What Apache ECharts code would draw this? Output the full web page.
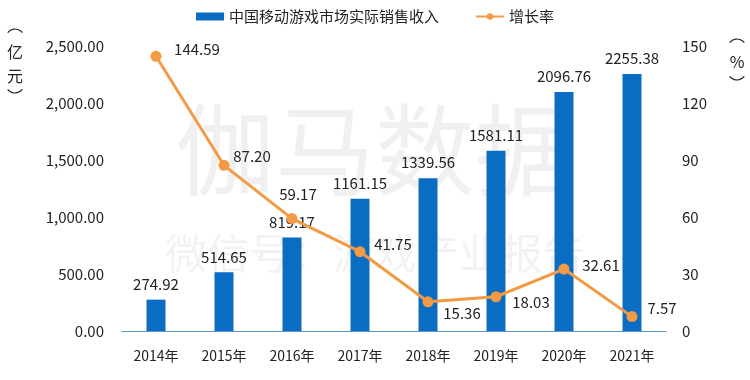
<!DOCTYPE html>
<html><head><meta charset="utf-8">
<script src="https://cdn.jsdelivr.net/npm/echarts@6/dist/echarts.min.js"></script>
<style>html,body{margin:0;padding:0;background:#fff}#c{width:750px;height:380px}</style>
</head><body><div id="c"></div>
<script>
var categories = ['2014年','2015年','2016年','2017年','2018年','2019年','2020年','2021年'];
var revenue = [274.92, 514.65, 819.17, 1161.15, 1339.56, 1581.11, 2096.76, 2255.38];
var growth = [144.59, 87.20, 59.17, 41.75, 15.36, 18.03, 32.61, 7.57];
var growthLabelPos = [[41,-7],[28,-9],[6,-24],[33,-7],[34,11],[35,6],[37,-4],[30,-8]];

var chart = echarts.init(document.getElementById('c'));
var F = '"Noto Sans CJK SC", "Noto Sans", sans-serif';
function bracket(cx, cy, up){
  return {type:'arc',shape:{cx:cx,cy:cy,r:9,startAngle:up?Math.PI*1.2:Math.PI*0.2,endAngle:up?Math.PI*1.8:Math.PI*0.8},
    style:{stroke:'#222',fill:null,lineWidth:1.2}};
}
chart.setOption({
  animation:false,
  textStyle:{fontFamily:F},
  legend:{top:4,left:'center',itemGap:36,textStyle:{fontSize:15,color:'#222',fontFamily:F},
    data:[{name:'中国移动游戏市场实际销售收入',icon:'rect'},{name:'增长率'}],
    itemWidth:28,itemHeight:8},
  grid:{left:122,right:84,top:46,bottom:49},
  graphic:[
    {type:'text',left:'center',top:100,z:-1,style:{text:'伽马数据',font:'100px '+F,fill:'rgba(0,0,0,0.06)'}},
    {type:'text',left:'center',top:232,z:-1,style:{text:'微信号：游戏产业报告',font:'42px '+F,fill:'rgba(0,0,0,0.05)'}},
    bracket(15,38,true),
    {type:'text',x:15,y:52,style:{text:'亿',font:'16px '+F,fill:'#222',align:'center',verticalAlign:'middle'}},
    {type:'text',x:15,y:76,style:{text:'元',font:'16px '+F,fill:'#222',align:'center',verticalAlign:'middle'}},
    bracket(15,84,false),
    bracket(737,48,true),
    {type:'text',x:737,y:62,style:{text:'%',font:'16px '+F,fill:'#222',align:'center',verticalAlign:'middle'}},
    bracket(737,71,false)
  ],
  xAxis:{type:'category',data:categories,axisTick:{show:false},
    axisLine:{lineStyle:{color:'#5B9BD5',width:1}},
    axisLabel:{fontSize:14,color:'#222',margin:18}},
  yAxis:[
    {type:'value',min:0,max:2500,interval:500,splitLine:{show:false},
     axisLabel:{fontSize:15,color:'#222',margin:18,formatter:function(v){return v.toLocaleString('en-US',{minimumFractionDigits:2,maximumFractionDigits:2});}}},
    {type:'value',min:0,max:150,interval:30,splitLine:{show:false},
     axisLabel:{fontSize:15,color:'#222',margin:16}}
  ],
  series:[
    {name:'中国移动游戏市场实际销售收入',type:'bar',data:revenue,barWidth:19,
     itemStyle:{color:'#0A6CC2'},
     label:{show:true,position:'top',distance:8,fontSize:15,color:'#222',formatter:function(p){return p.value.toFixed(2);}}},
    {name:'增长率',type:'line',yAxisIndex:1,data:growth.map(function(v,i){
        return {value:v,label:{offset:growthLabelPos[i]}};}),
     symbol:'circle',symbolSize:11,
     lineStyle:{color:'#F39A44',width:3},itemStyle:{color:'#F39A44'},
     label:{show:true,position:'inside',fontSize:15,color:'#222',formatter:function(p){return p.value.toFixed(2);}}}
  ]
});
</script></body></html>
